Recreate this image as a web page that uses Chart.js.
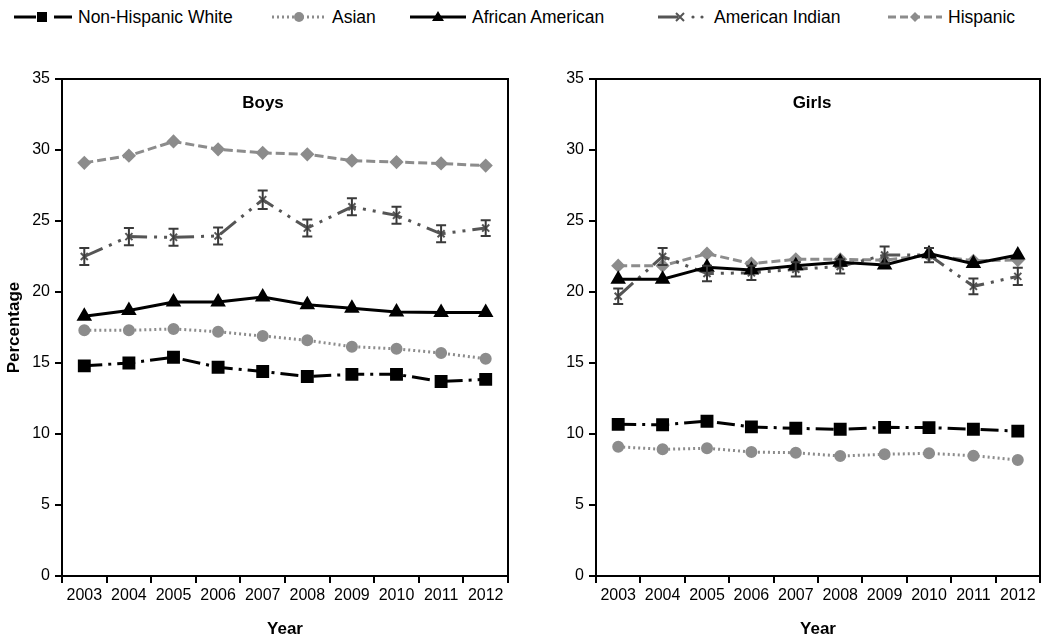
<!DOCTYPE html>
<html>
<head>
<meta charset="utf-8">
<script src="https://cdn.jsdelivr.net/npm/chart.js@4"></script>
<style>
  body { margin: 0; background: #fff; font-family: "Liberation Sans", Arial, sans-serif; }
  #wrap { position: relative; width: 1050px; height: 644px; overflow: hidden; }
  .leg { position: absolute; top: 6px; height: 22px; display: flex; align-items: center; font-size: 17.5px; color: #000; white-space: nowrap; }
  .leg svg { margin-right: 6px; }
  canvas { position: absolute; top: 40px; }
</style>
</head>
<body>
<div id="wrap">
  <div class="leg" style="left:14px">
    <svg width="58" height="14"><line x1="0" y1="7" x2="22" y2="7" stroke="#000" stroke-width="3"/><rect x="23" y="2" width="10" height="10" fill="#000"/><line x1="40" y1="7" x2="58" y2="7" stroke="#000" stroke-width="3"/></svg>Non-Hispanic White
  </div>
  <div class="leg" style="left:272px">
    <svg width="54" height="14"><line x1="0" y1="7" x2="54" y2="7" stroke="#8c8c8c" stroke-width="3" stroke-dasharray="2 3"/><circle cx="27" cy="7" r="5" fill="#8c8c8c"/></svg>Asian
  </div>
  <div class="leg" style="left:410px">
    <svg width="56" height="14"><line x1="0" y1="7" x2="56" y2="7" stroke="#000" stroke-width="3"/><polygon points="28,1 34,11 22,11" fill="#000"/></svg>African American
  </div>
  <div class="leg" style="left:650px">
    <svg width="58" height="14"><line x1="8" y1="7" x2="28" y2="7" stroke="#555" stroke-width="3"/><path d="M26,3 L34,11 M34,3 L26,11" stroke="#555" stroke-width="2"/><circle cx="43" cy="7" r="1.6" fill="#555"/><circle cx="52" cy="7" r="1.6" fill="#555"/></svg>American Indian
  </div>
  <div class="leg" style="left:888px">
    <svg width="54" height="14"><line x1="0" y1="7" x2="54" y2="7" stroke="#8c8c8c" stroke-width="3" stroke-dasharray="8 4"/><polygon points="27,2 32,7 27,12 22,7" fill="#8c8c8c"/></svg>Hispanic
  </div>
  <canvas id="boys" width="525" height="604" style="left:0px"></canvas>
  <canvas id="girls" width="525" height="604" style="left:525px"></canvas>
</div>
<script>
// years on the x axis
const years = ["2003", "2004", "2005", "2006", "2007", "2008", "2009", "2010", "2011", "2012"];

// boys, percentages
const boysWhite    = [14.8, 15.0, 15.4, 14.7, 14.4, 14.05, 14.2, 14.2, 13.7, 13.85];
const boysAsian    = [17.3, 17.3, 17.4, 17.2, 16.9, 16.6, 16.15, 16.0, 15.7, 15.3];
const boysAfrican  = [18.3, 18.7, 19.3, 19.3, 19.65, 19.1, 18.85, 18.6, 18.55, 18.55];
const boysIndian   = [22.5, 23.9, 23.85, 23.95, 26.5, 24.5, 26.0, 25.4, 24.1, 24.5];
const boysIndianErr = [0.6, 0.6, 0.6, 0.6, 0.65, 0.6, 0.6, 0.6, 0.6, 0.55];
const boysHispanic = [29.1, 29.6, 30.6, 30.05, 29.8, 29.7, 29.25, 29.15, 29.05, 28.9];

// girls, percentages
const girlsWhite    = [10.68, 10.65, 10.9, 10.5, 10.4, 10.33, 10.47, 10.45, 10.33, 10.2];
const girlsAsian    = [9.1, 8.92, 9.0, 8.73, 8.68, 8.45, 8.57, 8.64, 8.47, 8.17];
const girlsAfrican  = [20.9, 20.9, 21.75, 21.55, 21.85, 22.1, 21.9, 22.7, 22.0, 22.6];
const girlsIndian   = [19.7, 22.5, 21.3, 21.35, 21.6, 21.8, 22.6, 22.6, 20.4, 21.1];
const girlsIndianErr = [0.55, 0.6, 0.55, 0.5, 0.5, 0.5, 0.6, 0.5, 0.55, 0.6];
const girlsHispanic = [21.85, 21.85, 22.7, 22.0, 22.3, 22.3, 22.25, 22.6, 22.2, 22.25];

const yTicks = [0, 5, 10, 15, 20, 25, 30, 35];

const FONT = "'Liberation Sans', Arial, sans-serif";
const GRAY = "#8c8c8c";
const DARK = "#555555";

// box round the plot area
const frame = {
  id: 'frame',
  afterDraw(chart) {
    const { ctx, chartArea: a } = chart;
    ctx.save();
    ctx.strokeStyle = '#000';
    ctx.lineWidth = 2;
    ctx.strokeRect(a.left, a.top, a.right - a.left, a.bottom - a.top);
    ctx.restore();
  }
};

// panel label inside the plot
const panelLabel = {
  id: 'panelLabel',
  afterDraw(chart, args, opts) {
    const { ctx, chartArea: a } = chart;
    ctx.save();
    ctx.font = "bold 17px " + FONT;
    ctx.fillStyle = '#000';
    ctx.textAlign = 'center';
    ctx.textBaseline = 'middle';
    ctx.fillText(opts.text, (a.left + a.right) / 2 + opts.dx, a.top + 24);
    ctx.restore();
  }
};

// error bars for the dataset that has an err array
const errorBars = {
  id: 'errorBars',
  afterDatasetsDraw(chart) {
    const { ctx } = chart;
    const xs = chart.scales.x, ys = chart.scales.y;
    chart.data.datasets.forEach(ds => {
      if (!ds.err) return;
      ctx.save();
      ctx.strokeStyle = '#3a3a3a';
      ctx.lineWidth = 2;
      ds.data.forEach((v, i) => {
        const x = xs.getPixelForValue(i);
        const y1 = ys.getPixelForValue(v - ds.err[i]);
        const y2 = ys.getPixelForValue(v + ds.err[i]);
        ctx.beginPath();
        ctx.moveTo(x, y1); ctx.lineTo(x, y2);
        ctx.moveTo(x - 5, y1); ctx.lineTo(x + 5, y1);
        ctx.moveTo(x - 5, y2); ctx.lineTo(x + 5, y2);
        ctx.stroke();
      });
      ctx.restore();
    });
  }
};

function makeSets(white, asian, african, indian, indianErr, hispanic) {
  return [
    { label: "Non-Hispanic White", data: white, borderColor: '#000', backgroundColor: '#000',
      borderWidth: 3, borderDash: [18, 6, 3, 6], pointStyle: 'rect', pointRadius: 7, tension: 0 },
    { label: "Asian", data: asian, borderColor: GRAY, backgroundColor: GRAY,
      borderWidth: 3, borderDash: [2, 3], pointStyle: 'circle', pointRadius: 4.5, tension: 0 },
    { label: "African American", data: african, borderColor: '#000', backgroundColor: '#000',
      borderWidth: 3, pointStyle: 'triangle', pointRadius: 6, tension: 0 },
    { label: "American Indian", data: indian, err: indianErr, borderColor: DARK, backgroundColor: DARK,
      borderWidth: 3, borderDash: [20, 7, 3, 7, 3, 7], pointStyle: 'crossRot', pointRadius: 5,
      pointBorderWidth: 2, tension: 0 },
    { label: "Hispanic", data: hispanic, borderColor: GRAY, backgroundColor: GRAY,
      borderWidth: 3, borderDash: [9, 4], pointStyle: 'rectRot', pointRadius: 5, tension: 0 }
  ];
}

function makeChart(id, sets, label, labelDx, yWidth, yTitle, padRight) {
  new Chart(document.getElementById(id), {
    type: 'line',
    data: { labels: years, datasets: sets },
    plugins: [frame, panelLabel, errorBars],
    options: {
      responsive: false,
      animation: false,
      layout: { padding: { top: 39, right: padRight, bottom: 0, left: 0 } },
      plugins: {
        legend: { display: false },
        tooltip: { enabled: false },
        panelLabel: { text: label, dx: labelDx }
      },
      scales: {
        x: {
          type: 'category',
          offset: true,
          grid: { display: true, drawOnChartArea: false, offset: true, tickLength: 7, color: '#000', lineWidth: 2 },
          border: { color: '#000', width: 2 },
          ticks: { color: '#000', font: { family: FONT, size: 16 }, maxRotation: 0, autoSkip: false, padding: 3 },
          title: { display: true, text: 'Year', color: '#000', font: { family: FONT, size: 17, weight: 'bold' }, padding: { top: 18 } },
          afterFit(s) { s.height = 68; }
        },
        y: {
          min: 0,
          max: 35,
          afterBuildTicks(s) { s.ticks = yTicks.map(v => ({ value: v })); },
          grid: { display: true, drawOnChartArea: false, tickLength: 7, color: '#000', lineWidth: 2 },
          border: { color: '#000', width: 2 },
          ticks: { color: '#000', font: { family: FONT, size: 16 }, padding: 5 },
          title: { display: yTitle, text: 'Percentage', color: '#000', font: { family: FONT, size: 17, weight: 'bold' }, padding: { bottom: 10 } },
          afterFit(s) { s.width = yWidth; }
        }
      }
    }
  });
}

makeChart('boys', makeSets(boysWhite, boysAsian, boysAfrican, boysIndian, boysIndianErr, boysHispanic), 'Boys', -22, 62, true, 17);
makeChart('girls', makeSets(girlsWhite, girlsAsian, girlsAfrican, girlsIndian, girlsIndianErr, girlsHispanic), 'Girls', -6, 71, false, 8);
</script>
</body>
</html>
